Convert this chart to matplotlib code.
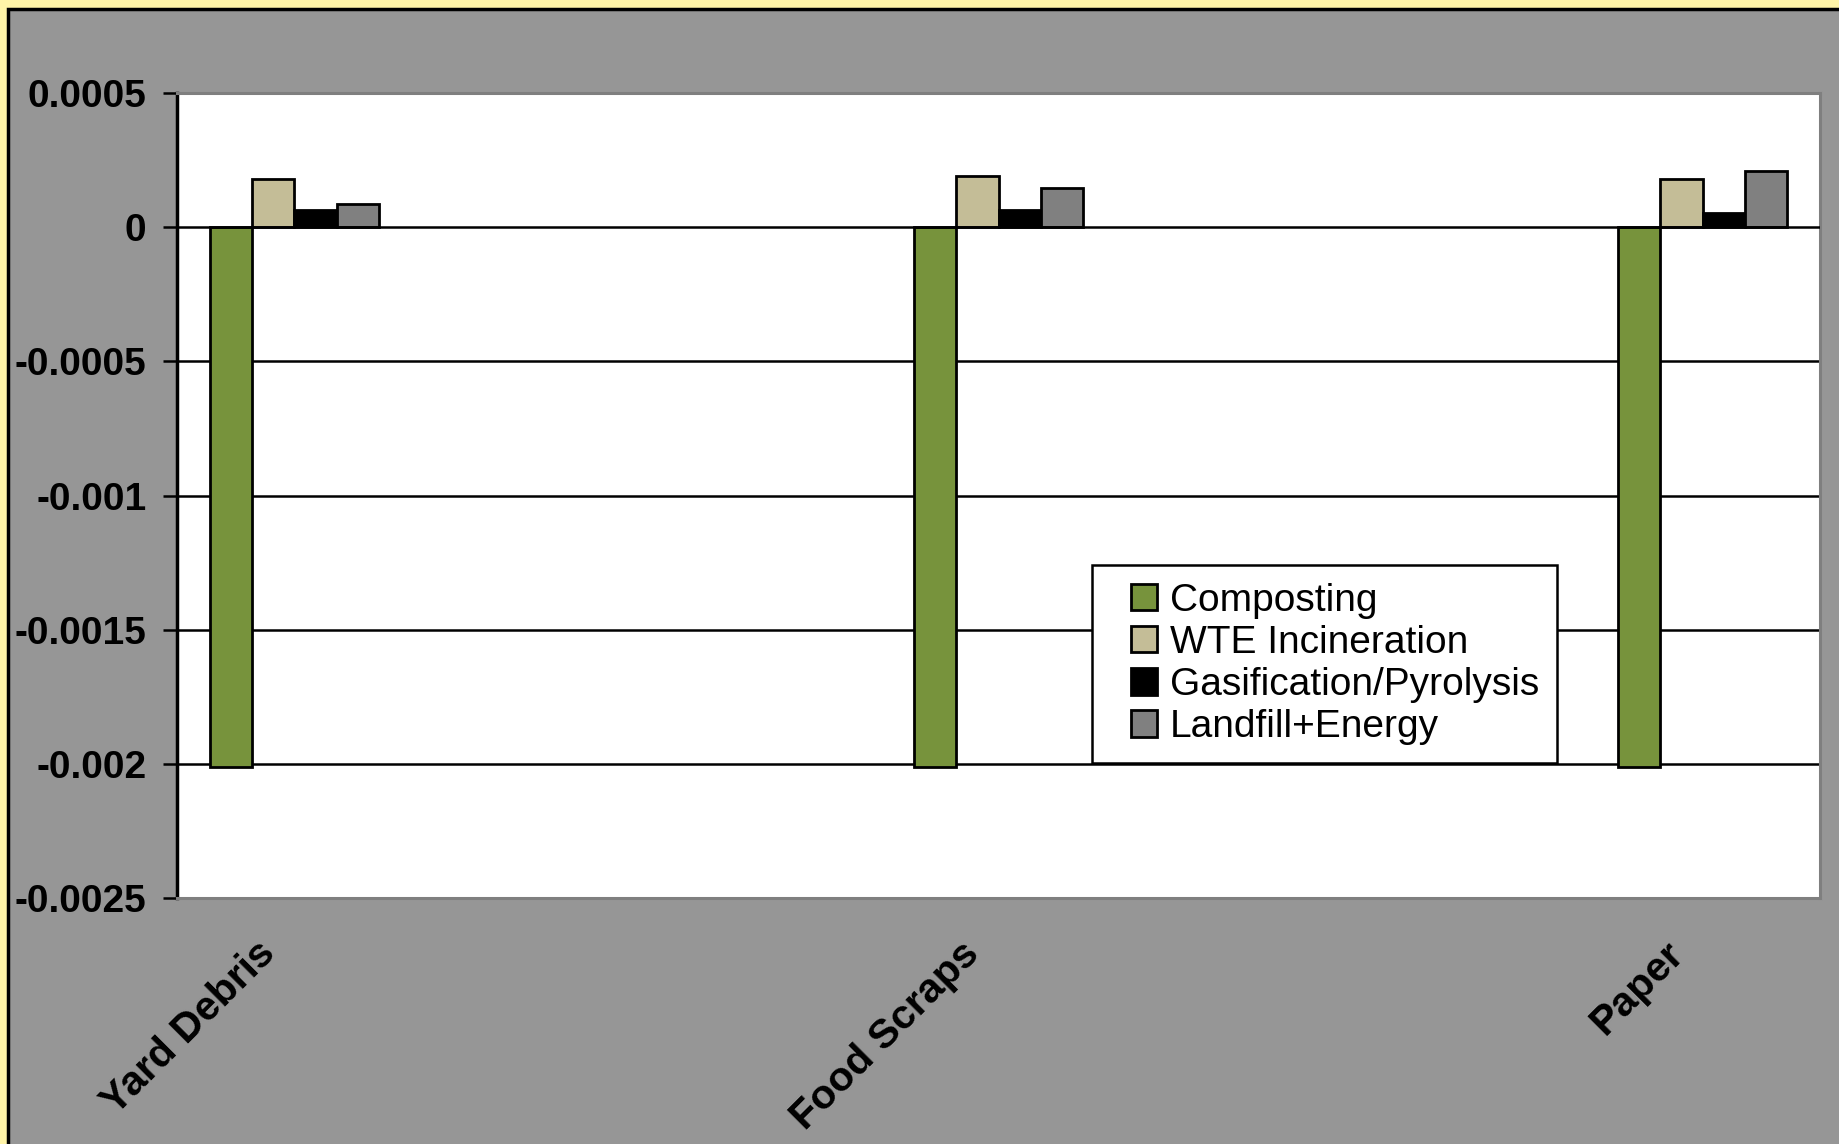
import numpy as np
import matplotlib.pyplot as plt
import matplotlib.patches as mpatches
import matplotlib.transforms as mtransforms
from matplotlib.container import BarContainer
from matplotlib.legend_handler import HandlerPatch, update_from_first_child

plt.rcParams['font.family'] = ['Liberation Sans', 'DejaVu Sans']

# Data
categories = ['Yard Debris', 'Food Scraps', 'Paper']
series_names = ['Composting', 'WTE Incineration', 'Gasification/Pyrolysis', 'Landfill+Energy']
composting = [-0.00201, -0.00201, -0.00201]
wte = [0.000179, 0.000190, 0.000179]
gasification = [0.000063, 0.000063, 0.000053]
landfill = [0.000086, 0.000147, 0.000209]
yticks = [0.0005, 0, -0.0005, -0.001, -0.0015, -0.002, -0.0025]
ytick_labels = ['0.0005', '0', '-0.0005', '-0.001', '-0.0015', '-0.002', '-0.0025']

colors = ['#77933C', '#C4BD97', '#000000', '#808080']
values = [composting, wte, gasification, landfill]

fig = plt.figure(figsize=(18.39, 11.44), dpi=100)
fig.patch.set_facecolor('#FFF4A8')

# gray chart area with black border (cut at right/bottom like the original)
bg = mpatches.Rectangle((8 / 1839, -0.05), 1.2, 1 - 9 / 1144 + 0.05,
                        transform=fig.transFigure, facecolor='#969696',
                        edgecolor='black', linewidth=2.5, zorder=-10)
fig.add_artist(bg)

ax = fig.add_axes([177 / 1839, (1144 - 898) / 1144, (1820 - 177) / 1839, (898 - 93) / 1144])
ax.set_facecolor('white')

# categories sit in every third slot (blank slots in between)
slot = 3
x = np.arange(len(categories)) * slot
width = 0.18
for i, (name, vals, c) in enumerate(zip(series_names, values, colors)):
    offset = (i - 1.5) * width
    ax.bar(x + offset, vals, width, color=c, edgecolor='black', linewidth=2.0,
           label=name, zorder=3)

ax.set_xlim(-0.5, 6.5)
ax.set_ylim(-0.0025, 0.0005)
ax.set_yticks(yticks)
ax.set_yticklabels(ytick_labels, fontsize=28, fontweight='bold')
ax.tick_params(axis='y', direction='out', length=10, width=1.8, pad=12, colors='black')

for yv in yticks[1:-1]:
    ax.axhline(yv, color='black', linewidth=1.8, zorder=1 if yv != 0 else 4)

ax.set_xticks(x)
ax.set_xticklabels(categories, fontsize=29.5, fontweight='bold', rotation=45,
                   ha='right', va='top', rotation_mode='anchor')
ax.tick_params(axis='x', length=0, pad=26)
shift = mtransforms.ScaledTranslation(-39 / 100, 0, fig.dpi_scale_trans)
for lbl in ax.get_xticklabels():
    lbl.set_transform(lbl.get_transform() + shift)

ax.spines['left'].set_color('black')
ax.spines['left'].set_linewidth(2.5)
for s in ['top', 'right', 'bottom']:
    ax.spines[s].set_color('#7f7f7f')
    ax.spines[s].set_linewidth(2.2)

# square legend keys, inset a little from the frame
square_handler = HandlerPatch(xpad=0.56, update_func=update_from_first_child)
leg = ax.legend(loc='lower left', bbox_to_anchor=(0.557, 0.168), fontsize=28,
                frameon=True, fancybox=False, edgecolor='black', framealpha=1,
                handlelength=1.22, handleheight=0.67, handletextpad=0.33,
                labelspacing=0.16, borderpad=0.45, borderaxespad=0,
                handler_map={BarContainer: square_handler})
leg.get_frame().set_linewidth(1.8)
leg.set_zorder(10)

fig.savefig('out.png', dpi=100, facecolor=fig.get_facecolor())
